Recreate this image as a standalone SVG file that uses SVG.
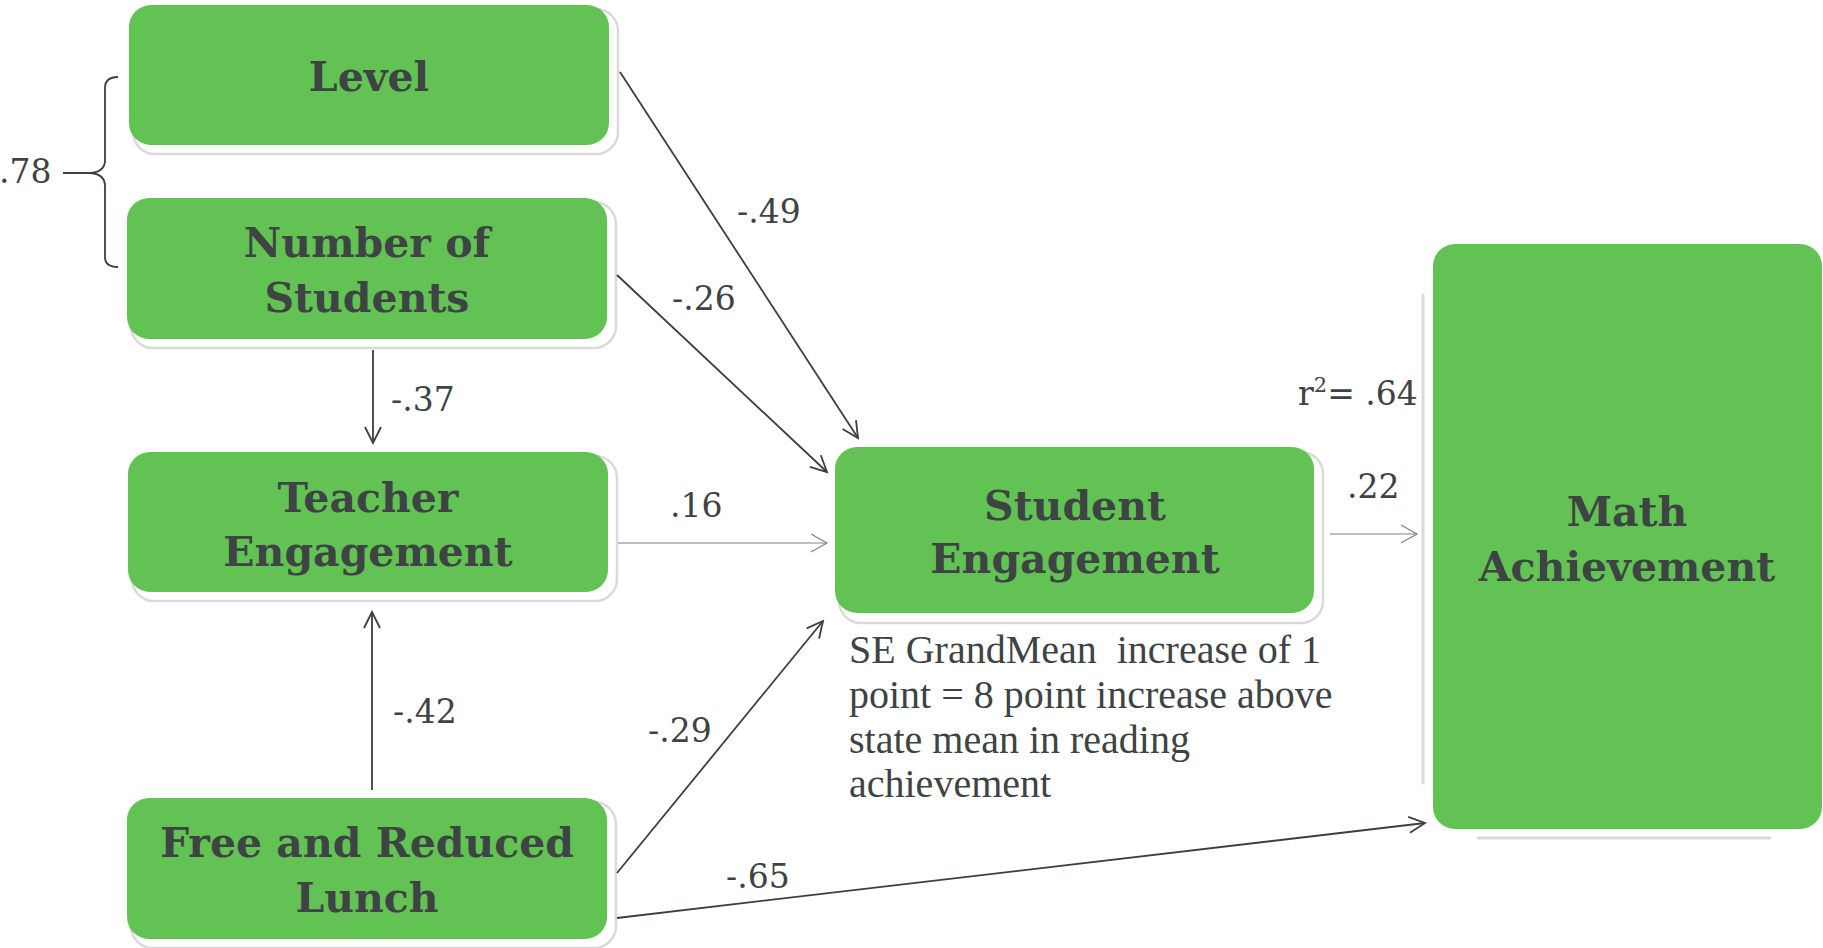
<svg xmlns="http://www.w3.org/2000/svg" width="1823" height="948" viewBox="0 0 1823 948">
<style>
.box{fill:#62c253}
.shadow{fill:#ffffff;stroke:#dadada;stroke-width:2.5}
.sline{fill:none;stroke:#dadada;stroke-width:3;stroke-linecap:round}
.lbl{font-family:"DejaVu Serif","Liberation Serif",serif;font-weight:bold;font-size:41px;fill:#3e4444;text-anchor:middle}
.num{font-family:"DejaVu Serif","Liberation Serif",serif;font-size:33px;fill:#3e4343}
.note{font-family:"Liberation Serif","Times New Roman",serif;font-size:40px;fill:#3e4343;white-space:pre}
.dark{fill:none;stroke:#3a3f3f;stroke-width:1.8}
.light{fill:none;stroke:#808080;stroke-width:1.2}
</style>
<defs>
<marker id="ad" markerUnits="userSpaceOnUse" markerWidth="24" markerHeight="24" viewBox="-20 -12 24 24" refX="0" refY="0" orient="auto">
<path d="M-16,-8 L0,0 L-16,8" fill="none" stroke="#3a3f3f" stroke-width="1.8"/>
</marker>
<marker id="al" markerUnits="userSpaceOnUse" markerWidth="24" markerHeight="24" viewBox="-20 -12 24 24" refX="0" refY="0" orient="auto">
<path d="M-16,-9 L0,0 L-16,9" fill="none" stroke="#808080" stroke-width="1.2"/>
</marker>
</defs>
<rect width="1823" height="948" fill="#ffffff"/>

<g id="level">
<rect class="shadow" x="133" y="9" width="485" height="145" rx="22"/>
<rect class="box" x="129" y="5" width="480" height="140" rx="22"/>
<text class="lbl" x="369" y="91">Level</text>
</g>

<g id="number-of-students">
<rect class="shadow" x="131" y="202" width="485" height="146" rx="22"/>
<rect class="box" x="127" y="198" width="480" height="141" rx="22"/>
<text class="lbl" x="367" y="257">Number of</text>
<text class="lbl" x="367" y="312">Students</text>
</g>

<g id="teacher-engagement">
<rect class="shadow" x="132" y="456" width="485" height="145" rx="22"/>
<rect class="box" x="128" y="452" width="480" height="140" rx="22"/>
<text class="lbl" x="368" y="512">Teacher</text>
<text class="lbl" x="368" y="566">Engagement</text>
</g>

<g id="free-reduced-lunch">
<rect class="shadow" x="131" y="802" width="485" height="146" rx="22"/>
<rect class="box" x="127" y="798" width="480" height="141" rx="22"/>
<text class="lbl" x="367" y="857">Free and Reduced</text>
<text class="lbl" x="367" y="912">Lunch</text>
</g>

<g id="student-engagement">
<rect class="shadow" x="839" y="452" width="484" height="171" rx="22"/>
<rect class="box" x="835" y="447" width="479" height="166" rx="22"/>
<text class="lbl" x="1075" y="520">Student</text>
<text class="lbl" x="1075" y="573">Engagement</text>
</g>

<g id="math-achievement">
<path class="sline" d="M1423,295 L1423,783"/>
<path class="sline" d="M1478,838 L1770,838"/>
<rect class="box" x="1433" y="244" width="389" height="585" rx="22"/>
<text class="lbl" x="1627" y="526">Math</text>
<text class="lbl" x="1627" y="581">Achievement</text>
</g>

<g id="note">
<text class="note" x="849" y="663" xml:space="preserve">SE GrandMean  increase of 1</text>
<text class="note" x="849" y="708">point = 8 point increase above</text>
<text class="note" x="849" y="753">state mean in reading</text>
<text class="note" x="849" y="797">achievement</text>
</g>

<g id="connectors">
<line class="dark" x1="620" y1="72" x2="858" y2="438" marker-end="url(#ad)"/>
<line class="dark" x1="617" y1="275" x2="827" y2="472" marker-end="url(#ad)"/>
<line class="light" x1="618" y1="543" x2="827" y2="543" marker-end="url(#al)"/>
<line class="dark" x1="617" y1="873" x2="823" y2="621" marker-end="url(#ad)"/>
<line class="dark" x1="617" y1="918" x2="1425" y2="823" marker-end="url(#ad)"/>
<line class="light" x1="1330" y1="534" x2="1417" y2="534" marker-end="url(#al)"/>
<line class="dark" x1="373" y1="350" x2="373" y2="443" marker-end="url(#ad)"/>
<line class="dark" x1="372" y1="790" x2="372" y2="612" marker-end="url(#ad)"/>
<path class="dark" d="M118,77 Q105,77 105,88 L105,160 Q105,172 90,173 L63,173 M90,173 Q105,174 105,186 L105,257 Q105,267 118,267"/>
</g>

<g id="labels">
<text class="num" x="-1" y="183">.78</text>
<text class="num" x="737" y="223">-.49</text>
<text class="num" x="672" y="310">-.26</text>
<text class="num" x="391" y="411">-.37</text>
<text class="num" x="670" y="517">.16</text>
<text class="num" x="393" y="723">-.42</text>
<text class="num" x="648" y="742">-.29</text>
<text class="num" x="726" y="888">-.65</text>
<text class="num" x="1298" y="405">r<tspan font-size="21" dy="-13">2</tspan><tspan dy="13">= .64</tspan></text>
<text class="num" x="1347" y="498">.22</text>
</g>
</svg>
